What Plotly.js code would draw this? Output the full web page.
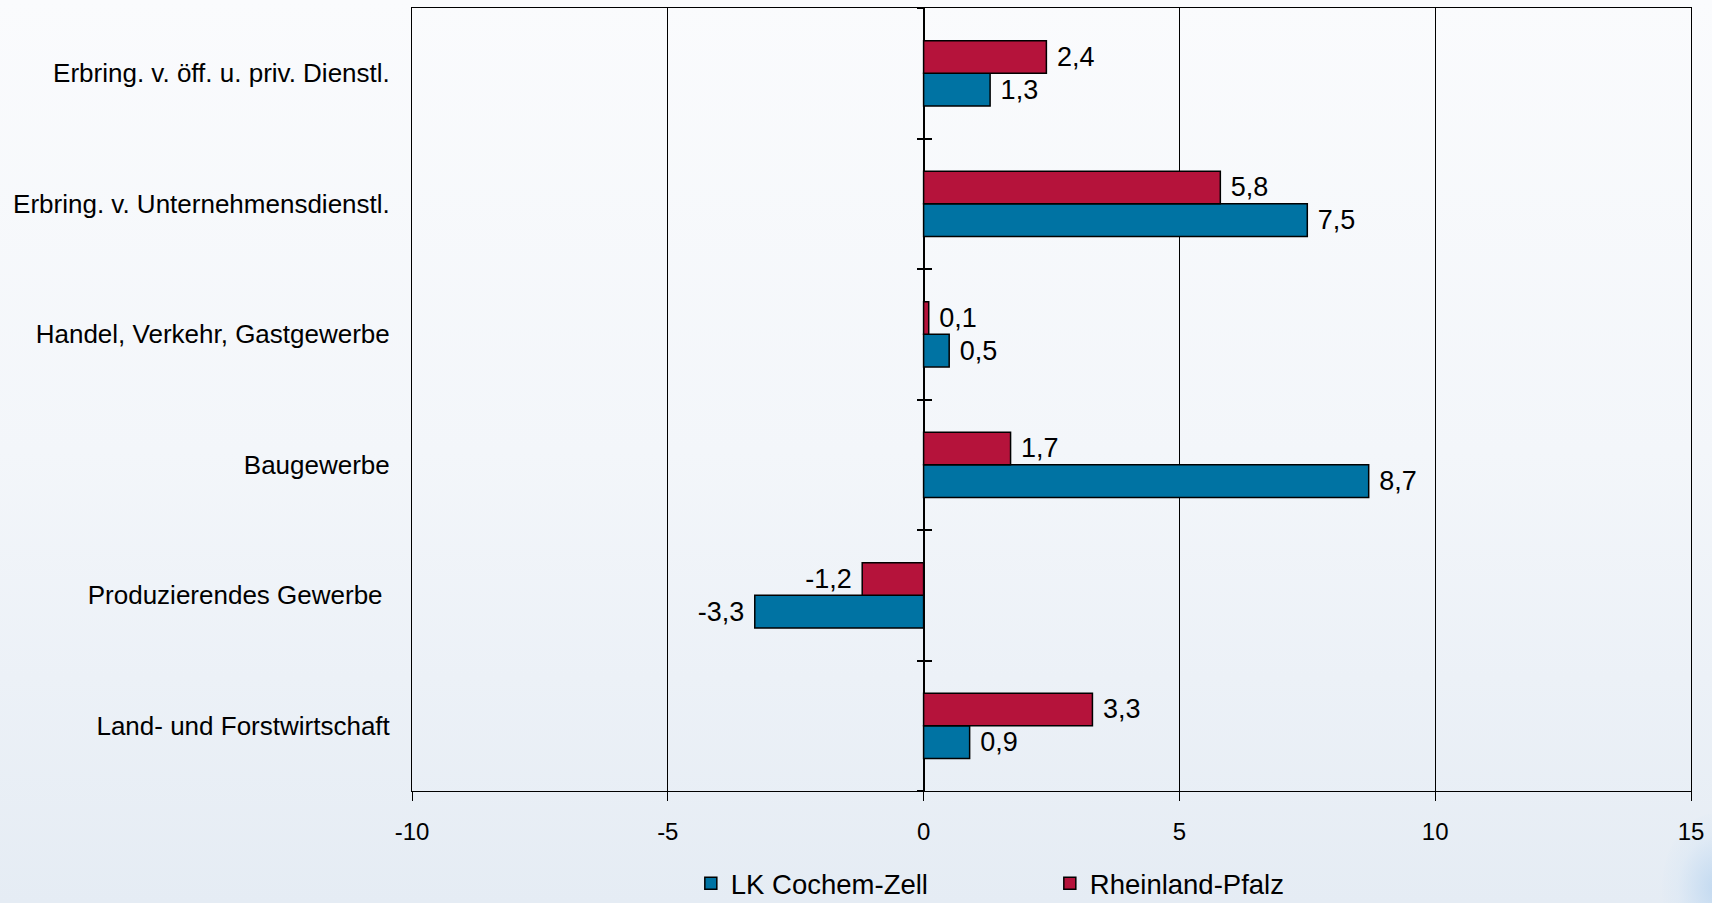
<!DOCTYPE html>
<html>
<head>
<meta charset="utf-8">
<script src="https://cdn.plot.ly/plotly-3.0.1.min.js"></script>
<style>
  html, body { margin: 0; padding: 0; }
  body {
    width: 1712px; height: 903px; overflow: hidden;
    background: linear-gradient(to bottom, #fafbfd 0%, #f3f6fa 50%, #e5ecf4 100%);
    position: relative;
  }
  #glow {
    position: absolute; right: -60px; bottom: -60px; width: 110px; height: 150px;
    border-radius: 50%;
    background: radial-gradient(ellipse at center, rgba(190,215,240,0.9) 0%, rgba(215,230,245,0.4) 50%, rgba(230,237,245,0) 75%);
  }
  #chart { position: absolute; left: 0; top: 0; width: 1712px; height: 903px; }
</style>
</head>
<body>
<div id="glow"></div>
<div id="chart"></div>
<script>
// Categories listed bottom to top
const categories = [
  "Land- und Forstwirtschaft",
  "Produzierendes Gewerbe\u00a0",
  "Baugewerbe",
  "Handel, Verkehr, Gastgewerbe",
  "Erbring. v. Unternehmensdienstl.",
  "Erbring. v. öff. u. priv. Dienstl."
];
const seriesNames = ["LK Cochem-Zell", "Rheinland-Pfalz"];
const lkCochemZell = [0.9, -3.3, 8.7, 0.5, 7.5, 1.3];
const rheinlandPfalz = [3.3, -1.2, 1.7, 0.1, 5.8, 2.4];
const xTickValues = [-10, -5, 0, 5, 10, 15];

const FONT = "Liberation Sans, Arial, Helvetica, sans-serif";

function fmt(v) {
  const s = v.toFixed(1).replace(".", ",");
  return v < 0 ? s + "\u00a0" : "\u00a0" + s;
}

function barTrace(name, values, color) {
  return {
    type: "bar",
    orientation: "h",
    name: name,
    y: categories,
    x: values,
    text: values.map(fmt),
    textposition: "outside",
    textfont: { family: FONT, size: 27, color: "#000" },
    constraintext: "none",
    cliponaxis: false,
    marker: { color: color, line: { color: "#000", width: 1.5 } },
    hoverinfo: "x+name"
  };
}

const data = [
  barTrace(seriesNames[0], lkCochemZell, "#0073A3"),
  barTrace(seriesNames[1], rheinlandPfalz, "#B5133B"),
  { type: "scatter", x: [], y: [], yaxis: "y2", showlegend: false, hoverinfo: "skip" },
  { type: "scatter", x: [], y: [], yaxis: "y3", showlegend: false, hoverinfo: "skip" }
];

const layout = {
  width: 1712, height: 903,
  margin: { l: 412, r: 21, t: 8, b: 112, pad: 0, autoexpand: false },
  paper_bgcolor: "rgba(0,0,0,0)",
  plot_bgcolor: "rgba(0,0,0,0)",
  font: { family: FONT, color: "#000" },
  separators: ",.",
  barmode: "group",
  bargap: 0.5,
  bargroupgap: 0,
  showlegend: true,
  legend: {
    orientation: "h",
    x: 0.218, xanchor: "left",
    y: -0.118, yanchor: "middle",
    font: { family: FONT, size: 27.5, color: "#000" },
    bgcolor: "rgba(0,0,0,0)",
    entrywidth: 314, entrywidthmode: "pixels",
    traceorder: "normal"
  },
  xaxis: {
    range: [-10, 15],
    tickvals: xTickValues,
    ticktext: xTickValues.map(String),
    ticks: "outside", ticklen: 9, tickcolor: "#000", tickwidth: 1,
    ticklabelstandoff: 10,
    tickfont: { family: FONT, size: 24, color: "#000" },
    showgrid: true, gridcolor: "#000", gridwidth: 1,
    zeroline: true, zerolinecolor: "#000", zerolinewidth: 1.5,
    showline: true, linecolor: "#000", linewidth: 1, mirror: true,
    fixedrange: true, automargin: false
  },
  yaxis: {
    type: "category",
    categoryorder: "array", categoryarray: categories,
    range: [-0.5, 5.5],
    ticks: "outside", ticklen: 16, tickcolor: "rgba(0,0,0,0)",
    tickfont: { family: FONT, size: 26, color: "#000" },
    showgrid: false, zeroline: false,
    showline: true, linecolor: "#000", linewidth: 1, mirror: true,
    fixedrange: true, automargin: false
  },
  yaxis2: {
    overlaying: "y", anchor: "free", position: 0.4,
    range: [-0.5, 5.5], tick0: -0.5, dtick: 1,
    ticks: "outside", ticklen: 7, tickcolor: "#000", tickwidth: 1.5,
    showticklabels: false, showgrid: false, zeroline: false, showline: false,
    fixedrange: true
  },
  yaxis3: {
    overlaying: "y", anchor: "free", position: 0.4,
    range: [-0.5, 5.5], tick0: -0.5, dtick: 1,
    ticks: "inside", ticklen: 7, tickcolor: "#000", tickwidth: 1.5,
    showticklabels: false, showgrid: false, zeroline: false, showline: false,
    fixedrange: true
  }
};

Plotly.newPlot("chart", data, layout, { displayModeBar: false, staticPlot: false });
</script>
</body>
</html>
